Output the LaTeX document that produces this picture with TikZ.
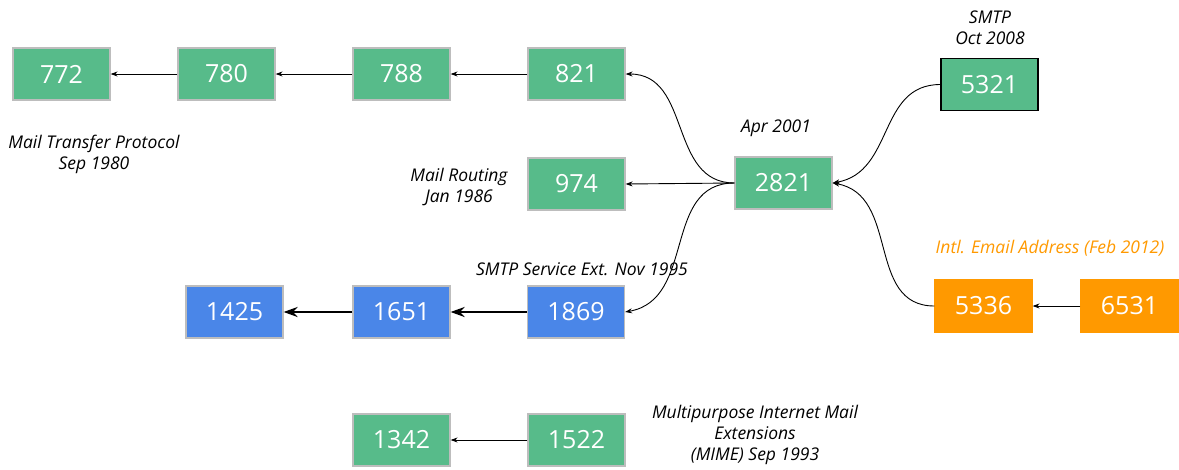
\documentclass[tikz,border=0pt]{standalone}
\usepackage{fontspec}
\setmainfont{Open Sans}
\usetikzlibrary{arrows.meta}
\definecolor{rgreen}{HTML}{57BB8A}
\definecolor{rblue}{HTML}{4A86E8}
\definecolor{rorange}{HTML}{FF9900}
\definecolor{rgray}{HTML}{BDBDBD}
\begin{document}
\begin{tikzpicture}[x=1pt,y=-1pt,
  rfc/.style={minimum width=97pt,minimum height=52pt,inner sep=0pt,text=white,font=\fontsize{25}{29}\selectfont,draw=rgray,line width=1.2pt},
  gbox/.style={rfc,fill=rgreen},
  bbox/.style={rfc,fill=rblue},
  obox/.style={rfc,fill=rorange,draw=rorange},
  lbl/.style={font=\fontsize{17.5}{21}\selectfont\itshape,align=center,text=black,inner sep=0pt},
  thin/.style={-{Stealth[length=7pt,width=5pt]},line width=0.9pt},
  thick/.style={-{Stealth[length=14pt,width=10pt]},line width=2.6pt}]
\useasboundingbox (0,0) rectangle (1179,469);
% nodes
\node[gbox] (n772) at (61.5,74) {772};
\node[gbox] (n780) at (226.5,74) {780};
\node[gbox] (n788) at (401.5,74) {788};
\node[gbox] (n821) at (576.5,74) {821};
\node[gbox] (n974) at (576.5,184) {974};
\node[gbox] (n2821) at (783.5,183) {2821};
\node[gbox,draw=black] (n5321) at (989.5,84.5) {5321};
\node[bbox] (n1869) at (576,312) {1869};
\node[bbox] (n1651) at (401.5,312) {1651};
\node[bbox] (n1425) at (234.5,312) {1425};
\node[obox] (n5336) at (983.5,306) {5336};
\node[obox] (n6531) at (1129.5,306) {6531};
\node[gbox] (n1342) at (401.5,440) {1342};
\node[gbox] (n1522) at (576.5,440) {1522};
% labels
\node[lbl] (l1) at (94,154) {Mail Transfer Protocol\\Sep 1980};
\node[lbl] (l2) at (459,187) {Mail Routing\\Jan 1986};
\node[lbl] (l3) at (776,128) {Apr 2001};
\node[lbl] (l4) at (990,28) {SMTP\\Oct 2008};
\node[lbl] (l5) at (582,269) {SMTP Service Ext. Nov 1995};
\node[lbl,text=rorange] (l6) at (1050,248) {Intl. Email Address (Feb 2012)};
\node[lbl] (l7) at (755,435) {Multipurpose Internet Mail\\Extensions\\(MIME) Sep 1993};
% connectors
\draw[thin] (n780) -- (n772);
\draw[thin] (n788) -- (n780);
\draw[thin] (n821) -- (n788);
\draw[thin] (n2821.west) to[out=180,in=0,looseness=1.1] (n821.east);
\draw[thin] (n2821.west) -- (n974.east);
\draw[thin] (n2821.west) to[out=180,in=10,looseness=1.1] (n1869.east);
\draw[thin] (n5321.west) to[out=180,in=10,looseness=1.1] (n2821.east);
\draw[thin] (n5336.west) to[out=180,in=-10,looseness=1.1] (n2821.east);
\draw[thin] (n6531) -- (n5336);
\draw[thick] (n1869) -- (n1651);
\draw[thick] (n1651) -- (n1425);
\draw[thin] (n1522) -- (n1342);
\end{tikzpicture}
\end{document}
